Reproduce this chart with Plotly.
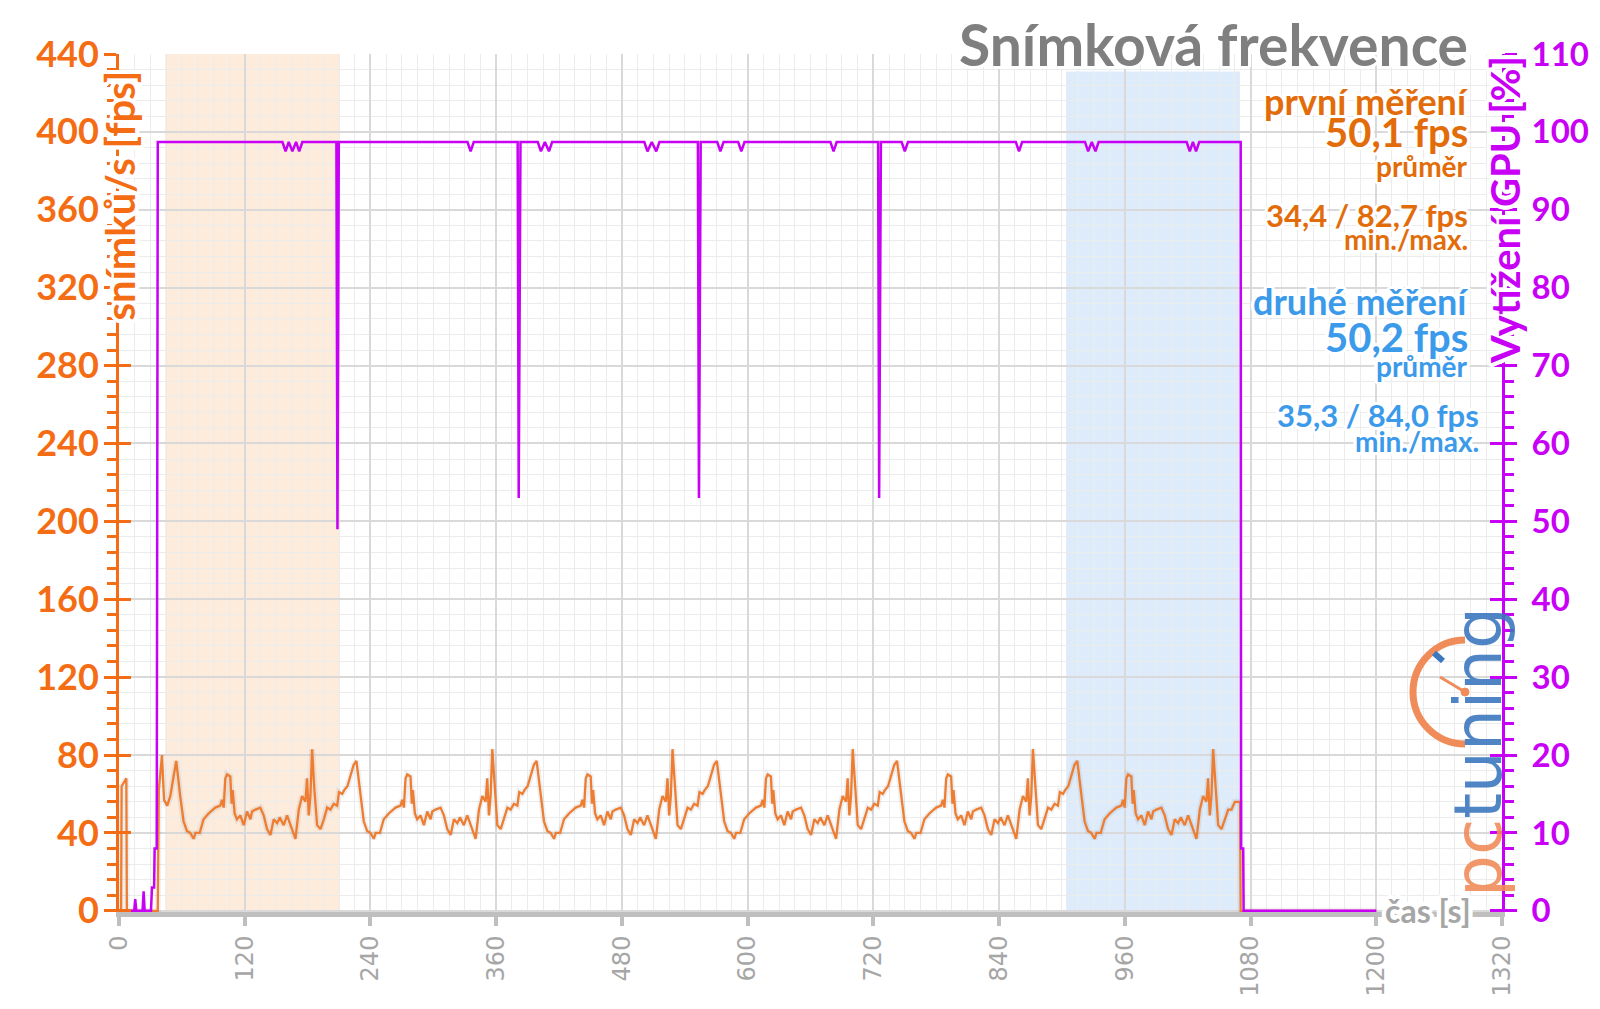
import plotly.graph_objects as go

# ---------------- data ----------------
x_tick_values = [0, 120, 240, 360, 480, 600, 720, 840, 960, 1080, 1200, 1320]
fps_tick_values = [0, 40, 80, 120, 160, 200, 240, 280, 320, 360, 400, 440]
gpu_tick_values = [0, 10, 20, 30, 40, 50, 60, 70, 80, 90, 100, 110]

# measured intervals (s) and top of second shaded band (fps units)
first_run_span = [44, 210]
second_run_span = [904, 1070]
second_run_top = 431

# frame rate before the benchmark loop starts
fps_pre_t = [0, 2, 2.5, 7, 7.5, 37]
fps_pre_v = [0, 0, 64, 68, 0, 0]

# the benchmark scene loops six times; time offsets inside one loop (s)
loop_offset_t = [38, 41, 43, 46, 49, 52, 54.6, 58.4, 61.6, 64.8,
                 68, 71.2, 73, 77, 80.7, 85.5, 91.9, 96.7, 98.3, 99.9,
                 101.5, 103.1, 106.2, 107.5, 108.5, 110.4, 112.6, 115.8, 119, 122.2,
                 125.4, 127, 130.1, 134.9, 138.1, 141.3, 144.5, 147.7, 150.9, 153.4,
                 157.2, 160.4, 163.6, 168.4, 171.6, 174.8, 177.9, 179.5, 181.1, 182.7,
                 184.3, 186.5, 189.1, 192.3, 195.5, 198.7, 201.8, 205, 208.2]
loop_start = [0, 172, 344, 516, 688, 860]

fps_loop1 = [62, 80, 57, 54, 59, 70, 77, 59, 46, 41,
             40, 37, 40, 40, 47, 50, 53, 54, 57, 53,
             68, 70, 69, 55, 62, 50, 47, 49, 44, 51,
             47, 51, 52, 53, 49, 42, 39, 47, 45, 48,
             44, 49, 44, 37, 52, 59, 56, 68, 49, 59,
             83, 62, 44, 42, 47, 53, 52, 55, 54]
fps_loop2 = [61, 60, 62, 64, 69, 75, 77, 59, 46, 41,
             40, 37, 40, 40, 47, 50, 53, 54, 57, 53,
             68, 70, 69, 55, 62, 50, 47, 49, 44, 51,
             47, 51, 52, 53, 49, 42, 39, 47, 45, 48,
             44, 49, 44, 37, 52, 59, 56, 68, 49, 59,
             83, 62, 44, 42, 47, 53, 52, 55, 54]
fps_loop3 = [61, 60, 62, 64, 69, 75, 77, 59, 46, 41,
             40, 37, 40, 40, 47, 50, 53, 54, 57, 53,
             68, 70, 69, 55, 62, 50, 47, 49, 44, 51,
             47, 51, 52, 53, 49, 42, 39, 47, 45, 48,
             44, 49, 44, 37, 52, 59, 56, 68, 49, 59,
             83, 62, 44, 42, 47, 53, 52, 55, 54]
fps_loop4 = [61, 60, 62, 64, 69, 75, 77, 59, 46, 41,
             40, 37, 40, 40, 47, 50, 53, 54, 57, 53,
             68, 70, 69, 55, 62, 50, 47, 49, 44, 51,
             47, 51, 52, 53, 49, 42, 39, 47, 45, 48,
             44, 49, 44, 37, 52, 59, 56, 68, 49, 59,
             83, 62, 44, 42, 47, 53, 52, 55, 54]
fps_loop5 = [61, 60, 62, 64, 69, 75, 77, 59, 46, 41,
             40, 37, 40, 40, 47, 50, 53, 54, 57, 53,
             68, 70, 69, 55, 62, 50, 47, 49, 44, 51,
             47, 51, 52, 53, 49, 42, 39, 47, 45, 48,
             44, 49, 44, 37, 52, 59, 56, 68, 49, 59,
             83, 62, 44, 42, 47, 53, 52, 55, 54]
fps_loop6 = [61, 60, 62, 64, 69, 75, 77, 59, 46, 41,
             40, 37, 40, 40, 47, 50, 53, 54, 57, 53,
             68, 70, 69, 55, 62, 50, 47, 49, 44, 51,
             47, 51, 52, 53, 49, 42, 39, 47, 45, 48,
             44, 49, 44, 37, 52, 59, 56, 68, 49, 59,
             83, 62, 44, 42, 47, 52, 52, 56, 56]

fps_post_t = [1070, 1070.6, 1200]
fps_post_v = [56, 0, 0]

gpu_t = [0, 14.5, 15.5, 16.5, 22.5, 23.5, 24.5, 30.5, 31.5, 33.5, 34, 36, 37,
         156, 159, 162, 165.5, 169, 172, 175,
         207.5, 208.5, 209.8,
         332.6, 335.6, 338.6,
         380.5, 381.5, 383.2,
         399.7, 402.7, 406.5, 410.4, 413.4,
         501.4, 504.4, 508.5, 512.8, 515.8,
         552.5, 553.5, 555.2,
         571, 574, 577,
         591, 594, 597,
         679, 682, 685,
         724.5, 725.5, 727.2,
         747, 750, 753,
         856, 859, 862,
         922, 925, 928.5, 932, 935,
         1019, 1022, 1025, 1028, 1031,
         1070.6, 1071, 1073, 1073.4, 1200]
gpu_v = [0, 0, 1.5, 0, 0, 2.5, 0, 0, 3, 3, 8, 8, 98.7,
         98.7, 97.5, 98.7, 97.5, 98.7, 97.5, 98.7,
         98.7, 49, 98.7,
         98.7, 97.5, 98.7,
         98.7, 53, 98.7,
         98.7, 97.5, 98.7, 97.5, 98.7,
         98.7, 97.5, 98.7, 97.5, 98.7,
         98.7, 53, 98.7,
         98.7, 97.5, 98.7,
         98.7, 97.5, 98.7,
         98.7, 97.5, 98.7,
         98.7, 53, 98.7,
         98.7, 97.5, 98.7,
         98.7, 97.5, 98.7,
         98.7, 97.5, 98.7, 97.5, 98.7,
         98.7, 97.5, 98.7, 97.5, 98.7,
         98.7, 8, 8, 0, 0]

title_text = "Snímková frekvence"
x_title = "čas [s]"
y_title = "snímků/s [fps]"
y2_title = "Vytížení GPU [%]"
run1_lines = ["první měření", "50,1 fps", "průměr", "34,4 / 82,7 fps", "min./max."]
run2_lines = ["druhé měření", "50,2 fps", "průměr", "35,3 / 84,0 fps", "min./max."]

# ---------------- assemble the series ----------------
fps_t = list(fps_pre_t)
fps_v = list(fps_pre_v)
for start, vals in zip(loop_start, [fps_loop1, fps_loop2, fps_loop3,
                                    fps_loop4, fps_loop5, fps_loop6]):
    fps_t += [start + t for t in loop_offset_t]
    fps_v += vals
fps_t += fps_post_t
fps_v += fps_post_v

# ---------------- styling ----------------
W, H = 1600, 1009
ML, MR, MT, MB = 119, 98, 54, 97
PW, PH = W - ML - MR, H - MT - MB


def px(x):
    return (x - ML) / PW


def py(y):
    return (H - MB - y) / PH


ORANGE_AX = "#F46C14"
ORANGE_TXT = "#E36C0A"
FPS_COLOR = "#EE7D31"
MAGENTA = "#C800F5"
BLUE_TXT = "#3C9AEA"
GREY = "#7F7F7F"
FONT = "Lato"


def outline(r):
    offs = []
    for a in range(-r, r + 1):
        for b in range(-r, r + 1):
            if (a or b) and a * a + b * b <= r * r + 1:
                offs.append(f"{a}px {b}px 0px #ffffff")
    return ", ".join(offs)


GLOW = outline(3)
GLOW_AXIS = outline(4)

fig = go.Figure()
fig.add_trace(go.Scatter(x=fps_t, y=fps_v, mode="lines",
                         line=dict(color="rgba(0,0,0,0.06)", width=6),
                         hoverinfo="skip", showlegend=False))
fig.add_trace(go.Scatter(x=fps_t, y=fps_v, mode="lines",
                         line=dict(color=FPS_COLOR, width=2.3),
                         showlegend=False))
fig.add_trace(go.Scatter(x=gpu_t, y=gpu_v, mode="lines", yaxis="y2",
                         line=dict(color=MAGENTA, width=2.5),
                         showlegend=False))
fig.add_trace(go.Scatter(x=[None], y=[None], yaxis="y3", showlegend=False))
fig.add_trace(go.Scatter(x=[None], y=[None], yaxis="y4", showlegend=False))

fig.update_layout(
    width=W, height=H, autosize=False,
    margin=dict(l=ML, r=MR, t=MT, b=MB, pad=0),
    paper_bgcolor="white", plot_bgcolor="white",
    showlegend=False, hovermode=False,
    xaxis=dict(
        range=[0, 1320], tickmode="array", tickvals=x_tick_values,
        ticktext=[str(v) for v in x_tick_values],
        showgrid=True, gridcolor="#D9D9D9", gridwidth=2,
        minor=dict(tickmode="linear", tick0=0, dtick=15, showgrid=True,
                   gridcolor="#ECECEC", gridwidth=1),
        showline=True, linecolor="#BFBFBF", linewidth=5,
        ticks="outside", ticklen=9, tickwidth=4, tickcolor="#BFBFBF",
        tickangle=-90, tickfont=dict(family="DejaVu Sans", size=24, color="#A6A6A6"),
        zeroline=False, fixedrange=True,
    ),
    yaxis=dict(
        range=[-0.6, 440], tickmode="array", tickvals=fps_tick_values,
        ticktext=[str(v) for v in fps_tick_values],
        showgrid=True, gridcolor="#D9D9D9", gridwidth=2,
        minor=dict(tickmode="linear", tick0=0, dtick=8, showgrid=True,
                   gridcolor="#ECECEC", gridwidth=1, ticks="outside",
                   ticklen=9, tickwidth=3, tickcolor=ORANGE_AX),
        showline=True, linecolor=ORANGE_AX, linewidth=3,
        ticks="outside", ticklen=12, tickwidth=3, tickcolor=ORANGE_AX,
        ticklabelstandoff=-2,
        tickfont=dict(family=FONT, size=36, color=ORANGE_AX, weight="bold"),
        zeroline=False, fixedrange=True,
    ),
    yaxis2=dict(
        range=[-0.15, 110], overlaying="y", side="right",
        tickmode="array", tickvals=gpu_tick_values,
        ticktext=[str(v) for v in gpu_tick_values],
        showgrid=False,
        minor=dict(tickmode="linear", tick0=0, dtick=2, ticks="outside",
                   ticklen=9, tickwidth=3, tickcolor=MAGENTA, showgrid=False),
        showline=True, linecolor=MAGENTA, linewidth=3,
        ticks="outside", ticklen=12, tickwidth=3, tickcolor=MAGENTA,
        ticklabelstandoff=8,
        tickfont=dict(family=FONT, size=33, color=MAGENTA, weight="bold"),
        zeroline=False, fixedrange=True,
    ),
    yaxis3=dict(
        range=[-0.6, 440], overlaying="y", side="left",
        tickmode="array", tickvals=fps_tick_values, showticklabels=False,
        showgrid=False, showline=False, zeroline=False,
        ticks="inside", ticklen=12, tickwidth=3, tickcolor=ORANGE_AX,
    ),
    yaxis4=dict(
        range=[-0.15, 110], overlaying="y", side="right",
        tickmode="array", tickvals=gpu_tick_values, showticklabels=False,
        showgrid=False, showline=False, zeroline=False,
        ticks="inside", ticklen=12, tickwidth=3, tickcolor=MAGENTA,
    ),
)

# shaded measurement intervals (below the grid)
fig.add_shape(type="rect", xref="x", yref="y", layer="below",
              x0=first_run_span[0], x1=first_run_span[1], y0=0, y1=440,
              fillcolor="#FDEBDC", line=dict(width=0))
fig.add_shape(type="rect", xref="x", yref="y", layer="below",
              x0=second_run_span[0], x1=second_run_span[1], y0=0, y1=second_run_top,
              fillcolor="#DDEBFA", line=dict(width=0))

ann = []


def add_text(text, x, y, size, color, xanchor="right", angle=0, weight="bold",
             glow=GLOW):
    ann.append(dict(text=text, xref="paper", yref="paper", x=x, y=y,
                    xanchor=xanchor, yanchor="middle", showarrow=False,
                    textangle=angle,
                    font=dict(family=FONT, size=size, color=color,
                              weight=weight, shadow=glow)))


add_text(title_text, px(1470), py(44), 57, GREY)

sizes = [36, 40, 28, 31, 28]
ys1 = [101, 132, 166, 215, 239]
ys2 = [301, 337, 366, 415, 441]
rights1 = [1470, 1470, 1470, 1470, 1470]
rights2 = [1470, 1470, 1470, 1481, 1481]
for line, s, yy, rr in zip(run1_lines, sizes, ys1, rights1):
    add_text(line, px(rr), py(yy), s, ORANGE_TXT)
for line, s, yy, rr in zip(run2_lines, sizes, ys2, rights2):
    add_text(line, px(rr), py(yy), s, BLUE_TXT)

add_text(y_title, px(119.5), py(196), 40, ORANGE_AX, xanchor="center", angle=-90,
         glow=GLOW_AXIS)
add_text(y2_title, px(1505), py(210), 40, MAGENTA, xanchor="center", angle=-90,
         glow=GLOW_AXIS)
add_text(x_title, px(1428), py(910), 32, "#A6A6A6", xanchor="center", glow=GLOW_AXIS)

# pctuning logo (vertical)
ann.append(dict(text="<span style='color:#F08C5A'>pc</span><span style='color:#3C78BE'>tuning</span>",
                xref="paper", yref="paper", x=px(1478), y=py(752),
                xanchor="center", yanchor="middle", showarrow=False, textangle=-90,
                opacity=0.9, font=dict(family="DejaVu Sans", size=66, color="#3C78BE")))
fig.update_layout(annotations=ann)

cx, cy = px(1465), py(692)
logo_common = dict(xref="paper", yref="paper", xsizemode="pixel", ysizemode="pixel",
                   xanchor=cx, yanchor=cy, layer="above")
fig.add_shape(type="path", path="M 0,52 C -28.7,52 -52,28.7 -52,0 C -52,-28.7 -28.7,-52 0,-52",
              line=dict(color="#F08C5A", width=7), **logo_common)
fig.add_shape(type="path", path="M 0,0 L -25,15",
              line=dict(color="#F08C5A", width=3), **logo_common)
fig.add_shape(type="circle", x0=-4, x1=4, y0=-4, y1=4, fillcolor="#F08C5A",
              line=dict(color="#F08C5A", width=1), **logo_common)
fig.add_shape(type="path", path="M -31,39 L -22,31",
              line=dict(color="#3C78BE", width=6), **logo_common)

fig.write_html("out.html", include_plotlyjs=True,
               config={"displayModeBar": False},
               post_script="document.body.style.margin='0';document.body.style.overflow='hidden';")
